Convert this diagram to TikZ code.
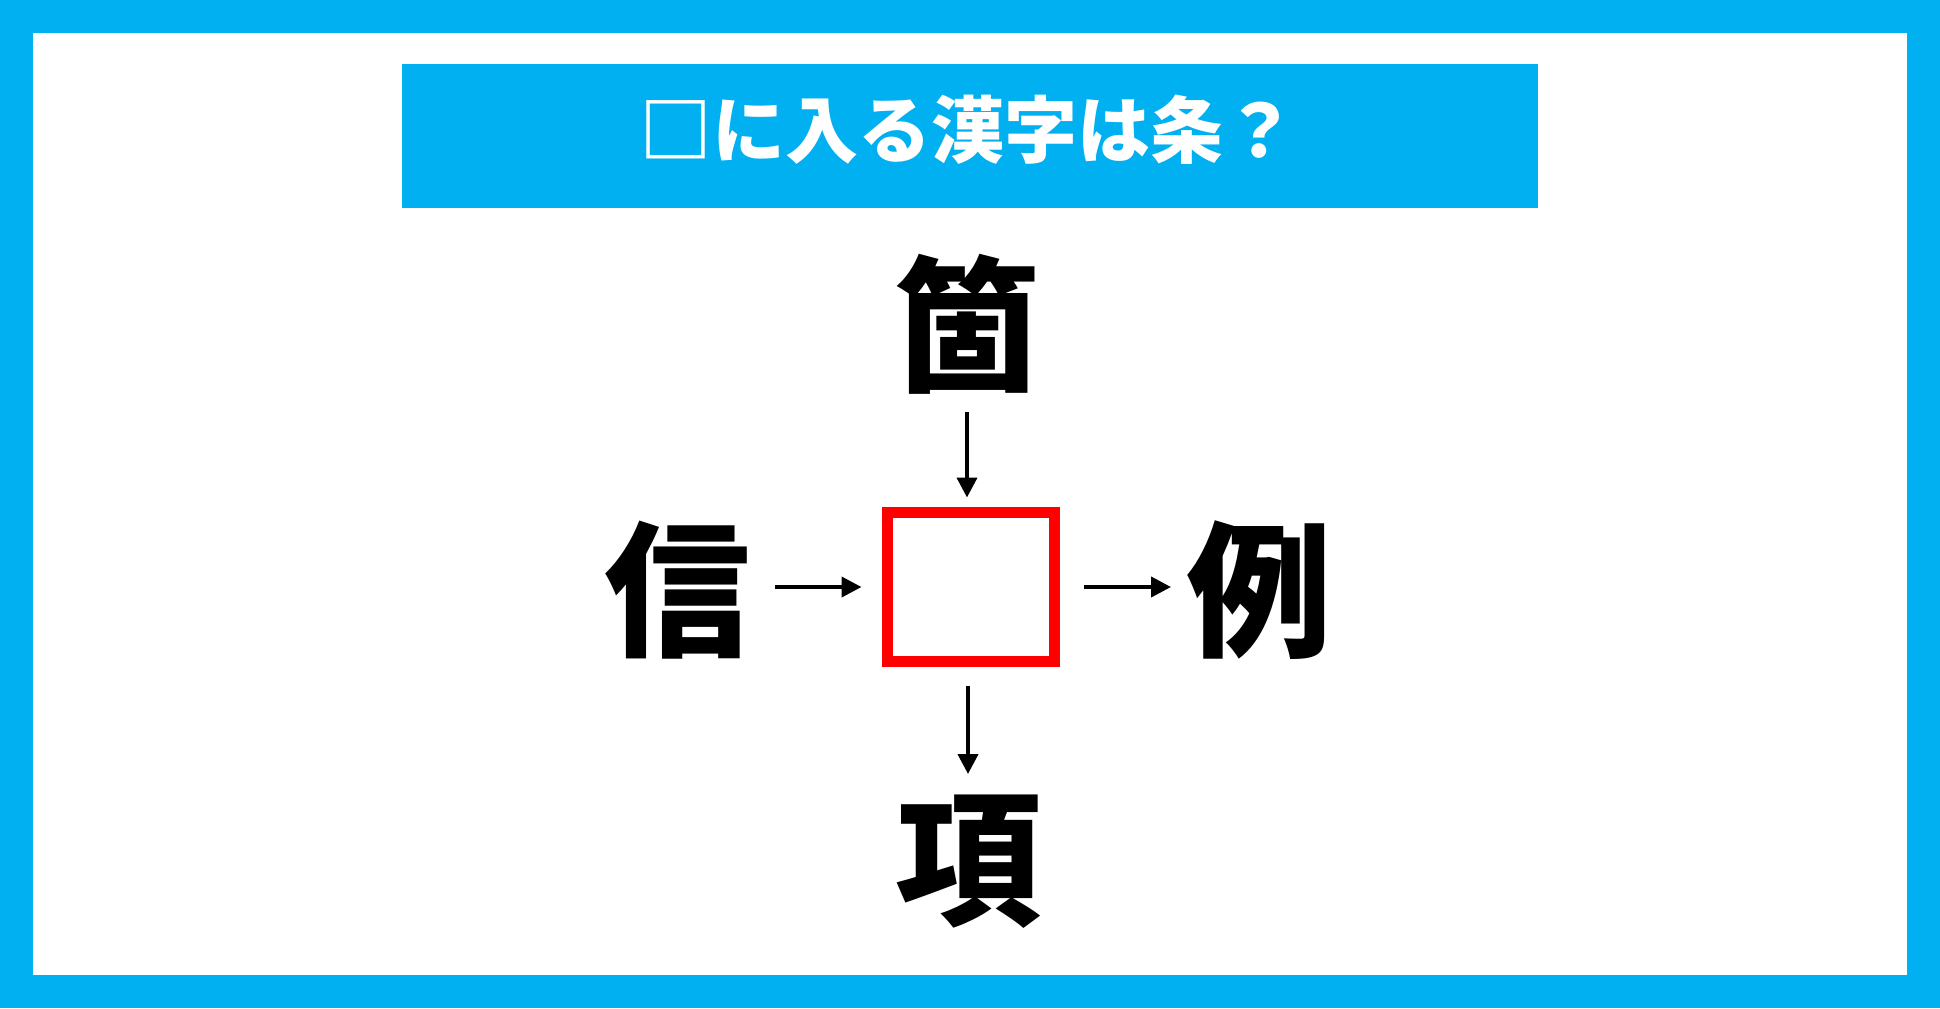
\documentclass[tikz,border=0pt]{standalone}
\usepackage{fontspec}
\newfontfamily\cjk{Noto Sans CJK JP}
\usetikzlibrary{arrows.meta}
\definecolor{skyblue}{RGB}{0,176,240}
\begin{document}
\begin{tikzpicture}[x=1bp,y=-1bp,inner sep=0pt,outer sep=0pt,line width=4bp,
>={Triangle[length=20bp,width=20bp]},
kanji/.style={minimum width=146bp,minimum height=146bp,font=\cjk\bfseries\fontsize{146bp}{146bp}\selectfont},
blank/.style={draw=red,line width=10.7bp,minimum width=167bp,minimum height=149bp}]
\useasboundingbox (0,0) rectangle (1940,1008);
\fill[skyblue] (0,0) rectangle (1940,1008);
\fill[white] (33,33) rectangle (1907,975);
\fill[skyblue] (402,64) rectangle (1538,208);
\draw (968,130) node[text=white,font=\cjk\bfseries\fontsize{73bp}{73bp}\selectfont] (title) {□に入る漢字は条？};
\draw (971,587) node[blank] (Q) {};
\draw (967,324) node[kanji] (T) {箇};
\draw (677,590) node[kanji] (L) {信};
\draw (1259,590) node[kanji] (R) {例};
\draw (968,862) node[kanji] (B) {項};
\draw[->,shorten <=15bp,shorten >=15bp] (T.south) -- (T.south |- Q.north);
\draw[->,shorten <=25bp,shorten >=26bp] (L.east |- Q.west) -- (Q.west);
\draw[->,shorten <=29bp,shorten >=15bp] (Q.east) -- (R.west |- Q.east);
\draw[->,shorten <=24bp,shorten >=15bp] (B.north |- Q.south) -- (B.north);
\end{tikzpicture}
\end{document}
